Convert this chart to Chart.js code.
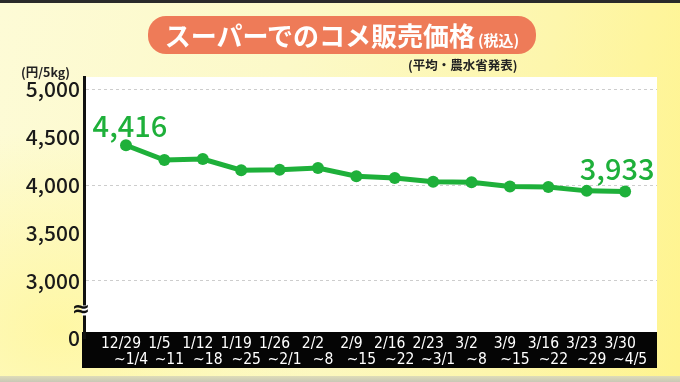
<!DOCTYPE html>
<html><head><meta charset="utf-8">
<script src="https://cdn.jsdelivr.net/npm/chart.js@4.4.1/dist/chart.umd.min.js"></script>
<style>
html,body{margin:0;padding:0;}
body{width:680px;height:382px;overflow:hidden;position:relative;
 background:
  linear-gradient(180deg,#2a2a2a 0px,#2a2a2a 3px,rgba(0,0,0,0) 3px),
  radial-gradient(ellipse 260px 200px at 60px 330px,rgba(255,247,160,0.9),rgba(255,247,160,0)),
  linear-gradient(100deg,#fdfbd6 0%,#fcf9c8 40%,#fdf6ac 75%,#fff48e 100%);}
#wrap{position:absolute;left:0;top:0;width:680px;height:382px;}
#title{position:absolute;left:148px;top:16px;width:388px;height:38px;background:#ee7b58;border-radius:18px;
 color:#fff;font-family:"Noto Sans CJK JP",sans-serif;font-weight:700;font-size:26px;line-height:38px;text-align:center;}
#title small{font-size:15px;font-weight:700;margin-left:3px;}
#sub{position:absolute;left:408px;top:55px;font-family:"Noto Sans CJK JP",sans-serif;font-weight:700;font-size:12.5px;color:#222;}
#unit{position:absolute;left:21px;top:62px;font-family:"Noto Sans CJK JP",sans-serif;font-weight:700;font-size:12.5px;color:#222;}
#bottom{position:absolute;left:0;top:376px;width:680px;height:6px;background:linear-gradient(180deg,#dedcb8,#c8c7b6);}
</style></head>
<body>
<div id="wrap"><canvas id="c" width="680" height="382"></canvas></div>
<div id="title">スーパーでのコメ販売価格<small>(税込)</small></div>
<div id="sub">(平均・農水省発表)</div>
<div id="unit">(円/5kg)</div>
<div id="bottom"></div>
<script>
const weekStarts = ['12/29','1/5','1/12','1/19','1/26','2/2','2/9','2/16','2/23','3/2','3/9','3/16','3/23','3/30'];
const weekEnds   = ['~1/4','~11','~18','~25','~2/1','~8','~15','~22','~3/1','~8','~15','~22','~29','~4/5'];
const prices     = [4416,4262,4272,4155,4160,4178,4092,4075,4035,4030,3985,3980,3940,3933];
const yTickValues = [3000,3500,4000,4500,5000];
const yGridValues = [3000,4000,5000];
const breakLabel = '0';
const labelledPoints = [0, prices.length - 1];

const Y_MIN = 2405, Y_MAX = 5128;
const GREEN = '#1eb03a';
const fmt = v => v.toLocaleString('en-US');

const bgPlugin = {
  id: 'bg',
  beforeDraw(chart) {
    const {ctx, chartArea: a} = chart;
    ctx.save();
    ctx.fillStyle = '#ffffff';
    ctx.fillRect(a.left, a.top, a.right - a.left, a.bottom - 6 - a.top);
    ctx.fillStyle = '#050505';
    ctx.fillRect(a.left - 2, a.bottom - 6, a.right - a.left + 2, 36);
    ctx.restore();
  },
  afterDraw(chart) {
    const {ctx} = chart;
    const y = chart.scales.y, x = chart.scales.x;
    const a = chart.chartArea;
    // x tick labels (two lines, condensed)
    ctx.save();
    ctx.fillStyle = '#ffffff';
    ctx.font = '15.5px "Liberation Sans Narrow","DejaVu Sans Condensed",sans-serif';
    ctx.textAlign = 'center';
    ctx.textBaseline = 'alphabetic';
    weekStarts.forEach((s, i) => {
      const px = x.getPixelForValue(i);
      ctx.fillText(s, px - 5, a.bottom + 10);
      ctx.fillText(weekEnds[i], px + 5, a.bottom + 26);
    });
    ctx.restore();
    // axis break mark
    const py = (y.getPixelForValue(3000) + y.getPixelForValue(Y_MIN)) / 2 + 1;
    ctx.save();
    ctx.fillStyle = '#ffffff';
    ctx.fillRect(a.left - 2, py - 5, 4, 10);
    ctx.fillStyle = '#111';
    ctx.font = 'bold 22px "DejaVu Sans"';
    ctx.textAlign = 'center';
    ctx.textBaseline = 'middle';
    ctx.fillText('≈', a.left - 3, py);
    ctx.restore();
  }
};

const labelPlugin = {
  id: 'vals',
  afterDatasetsDraw(chart) {
    const {ctx} = chart;
    const meta = chart.getDatasetMeta(0);
    ctx.save();
    ctx.fillStyle = GREEN;
    ctx.font = '500 29px "Noto Sans CJK JP", sans-serif';
    ctx.textBaseline = 'alphabetic';
    ctx.textAlign = 'center';
    labelledPoints.forEach((i, k) => {
      const p = meta.data[i];
      if (k === 0) ctx.fillText(fmt(prices[i]), p.x + 4, p.y - 8);
      else ctx.fillText(fmt(prices[i]), p.x - 8, p.y - 12);
    });
    ctx.restore();
  }
};

new Chart(document.getElementById('c'), {
  type: 'line',
  data: {
    datasets: [{
      data: prices.map((v, i) => ({x: i, y: v})),
      borderColor: GREEN, backgroundColor: GREEN,
      borderWidth: 5, pointRadius: 6, pointBackgroundColor: GREEN, pointBorderColor: GREEN,
      pointBorderWidth: 0, tension: 0
    }]
  },
  options: {
    responsive: false, animation: false, devicePixelRatio: 1,
    layout: {padding: {top: 77, right: 23, left: 0, bottom: 0}},
    plugins: {legend: {display: false}, tooltip: {enabled: false}},
    scales: {
      x: {
        type: 'linear', min: -1.094, max: 13.83,
        afterFit: s => { s.height = 44; },
        afterBuildTicks: s => { s.ticks = weekStarts.map((_, i) => ({value: i})); },
        grid: {display: false, drawTicks: false},
        border: {display: false},
        ticks: {display: false, autoSkip: false}
      },
      y: {
        type: 'linear', min: Y_MIN, max: Y_MAX,
        afterFit: s => { s.width = 84; },
        afterBuildTicks: s => { s.ticks = [{value: Y_MIN}].concat(yTickValues.map(v => ({value: v}))); },
        grid: {
          drawTicks: false, lineWidth: 1,
          color: c => (c.tick && yGridValues.includes(c.tick.value)) ? '#cdcdcd' : 'rgba(0,0,0,0)'
        },
        border: {display: true, color: '#111', width: 3, dash: [3, 3]},
        ticks: {
          padding: 4, color: '#1a1a1a',
          font: {family: '"Noto Sans CJK JP",sans-serif', size: 21, weight: '500'},
          callback: v => v === Y_MIN ? breakLabel : fmt(v)
        }
      }
    }
  },
  plugins: [bgPlugin, labelPlugin]
});
</script>
</body></html>
